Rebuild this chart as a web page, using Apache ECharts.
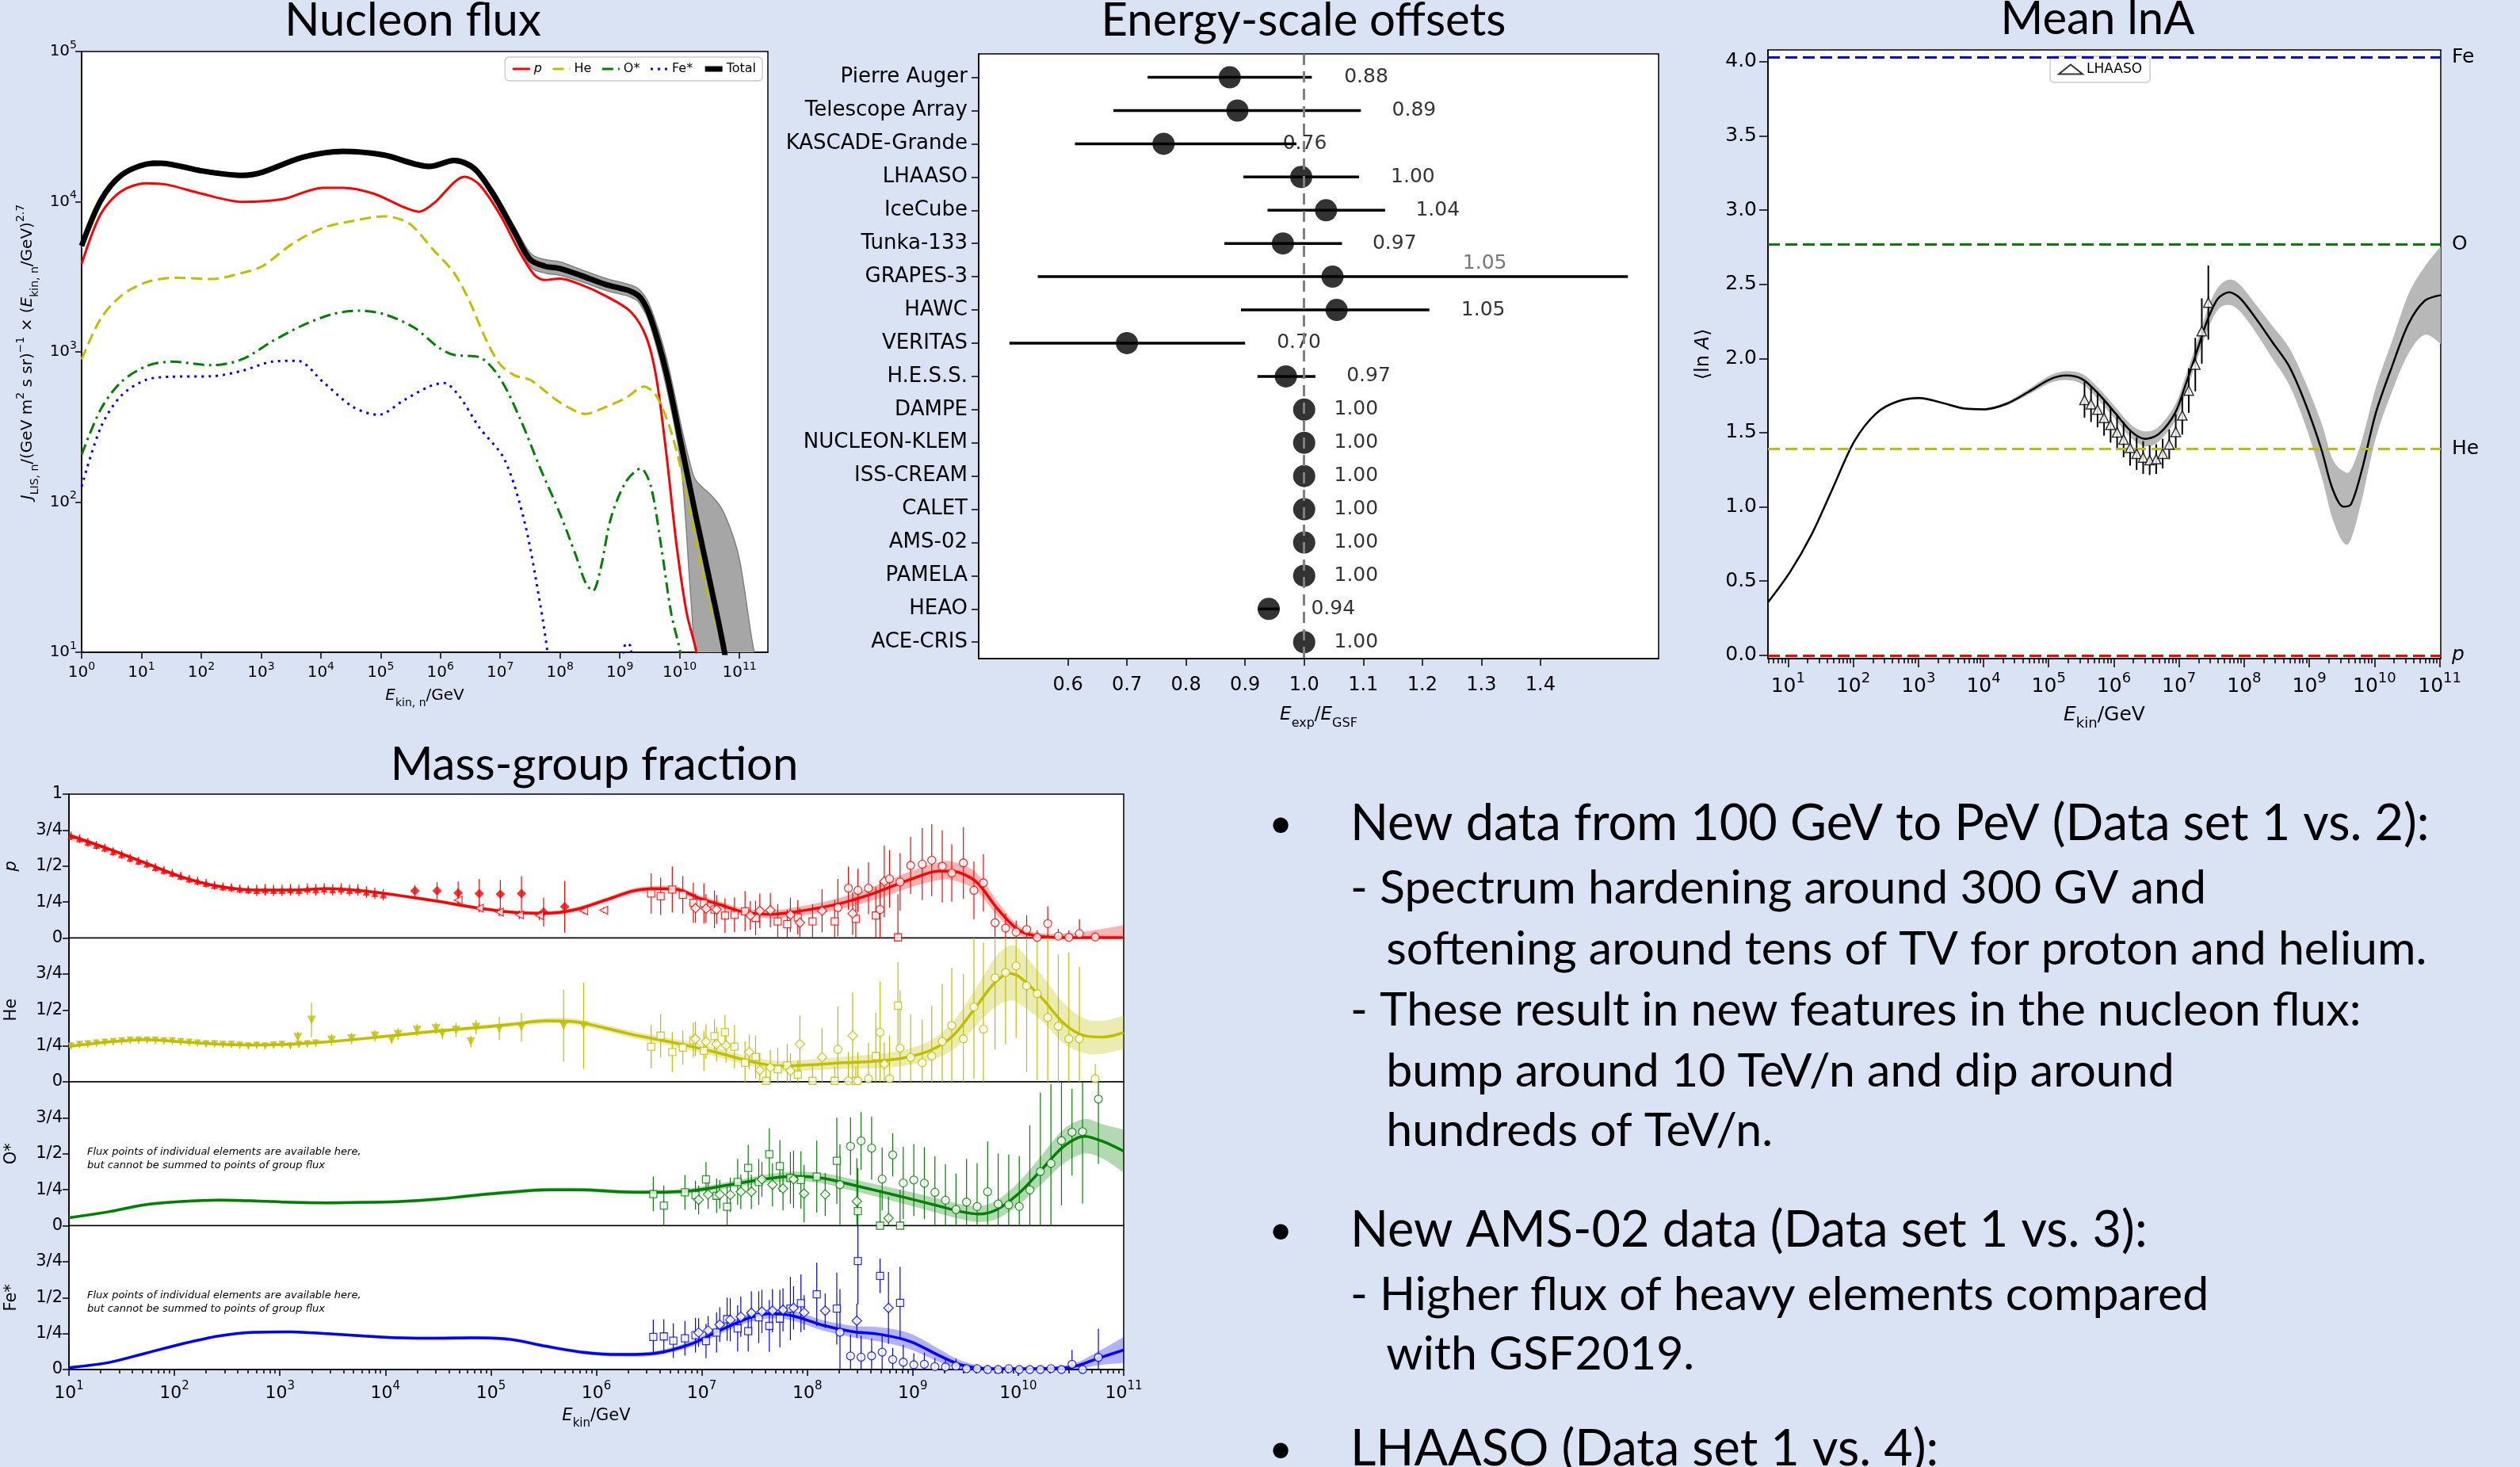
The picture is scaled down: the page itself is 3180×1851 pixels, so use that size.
<!DOCTYPE html>
<html>
<head>
<meta charset="utf-8">
<script src="https://cdn.jsdelivr.net/npm/echarts@6/dist/echarts.min.js"></script>
<style>
  html, body { margin: 0; padding: 0; background: #dae3f3; }
  #main { width: 3180px; height: 1851px; }
</style>
</head>
<body>
<div id="main"></div>
<script>
const FONT = 'DejaVu Sans';
const SLIDE = 'Lato';
const RED = '#ff0000', YEL = '#bfbf00', GRN = '#008000', BLU = '#0000ff';

// ---------- Nucleon flux: [log10(E/GeV), log10 J] ----------
const fluxP = [[0,3.585],[0.32,3.918],[0.66,4.069],[1.08,4.123],[1.42,4.114],[2.0,4.054],[2.68,3.999],[3.36,4.017],[4.03,4.093],[4.37,4.093],[4.88,4.054],[5.39,3.963],[5.64,3.933],[5.9,3.993],[6.23,4.129],[6.4,4.166],[6.65,4.114],[6.99,3.918],[7.33,3.661],[7.58,3.509],[7.75,3.479],[8.0,3.488],[8.34,3.449],[8.76,3.373],[9.18,3.268],[9.44,3.101],[9.61,2.829],[9.78,2.315],[9.95,1.71],[10.12,1.257],[10.28,1.0],[10.4,0.6]];
const fluxHe = [[0,2.95],[0.32,3.222],[0.66,3.373],[1.08,3.464],[1.59,3.494],[2.18,3.485],[2.68,3.525],[3.02,3.57],[3.53,3.721],[4.04,3.827],[4.54,3.872],[5.05,3.903],[5.47,3.857],[5.89,3.676],[6.23,3.525],[6.48,3.343],[6.74,3.101],[6.99,2.92],[7.24,2.844],[7.5,2.814],[7.75,2.739],[8.0,2.663],[8.43,2.587],[8.76,2.633],[9.1,2.693],[9.4,2.769],[9.61,2.708],[9.86,2.466],[10.11,2.073],[10.37,1.559],[10.62,1.166],[10.75,1.0],[10.9,0.6]];
const fluxO = [[0,2.315],[0.32,2.618],[0.66,2.799],[1.08,2.905],[1.5,2.935],[2.18,2.911],[2.68,2.95],[3.19,3.071],[3.7,3.177],[4.2,3.252],[4.63,3.274],[5.05,3.252],[5.56,3.162],[5.98,3.026],[6.23,2.98],[6.65,2.965],[6.99,2.829],[7.33,2.557],[7.67,2.224],[8.0,1.922],[8.26,1.65],[8.43,1.46],[8.55,1.408],[8.68,1.559],[8.85,1.892],[9.1,2.134],[9.35,2.224],[9.52,2.103],[9.69,1.71],[9.86,1.257],[10.01,1.0],[10.15,0.6]];
const fluxFe = [[0,2.103],[0.32,2.497],[0.66,2.708],[1.08,2.814],[1.5,2.835],[2.18,2.838],[2.68,2.874],[3.19,2.935],[3.61,2.941],[4.04,2.799],[4.54,2.633],[4.96,2.581],[5.39,2.678],[5.81,2.769],[6.06,2.793],[6.31,2.708],[6.65,2.497],[7.07,2.285],[7.41,1.862],[7.67,1.317],[7.79,1.0],[7.9,0.6],[8.5,null],[9.02,0.8],[9.1,1.06],[9.18,1.04],[9.26,0.6]];
const fluxTotal = [[0,3.706],[0.32,4.008],[0.66,4.175],[1.08,4.25],[1.33,4.256],[2.01,4.205],[2.69,4.175],[3.02,4.196],[3.7,4.296],[4.37,4.335],[5.05,4.311],[5.81,4.235],[6.23,4.274],[6.57,4.22],[6.9,4.039],[7.24,3.797],[7.5,3.615],[7.75,3.57],[8.0,3.555],[8.34,3.51],[8.76,3.449],[9.18,3.404],[9.35,3.358],[9.52,3.222],[9.78,2.859],[10.03,2.376],[10.28,1.892],[10.54,1.408],[10.75,1.0],[10.9,0.6]];
// grey band of the total: [log10 E, lower, upper]
const fluxTotalBand = [[0,3.694,3.718],[0.32,3.996,4.02],[0.66,4.163,4.187],[1.08,4.238,4.262],[1.33,4.244,4.268],[2.01,4.193,4.217],[2.69,4.163,4.187],[3.02,4.184,4.208],[3.7,4.284,4.308],[4.37,4.323,4.347],[5.05,4.299,4.323],[5.81,4.222,4.248],[6.23,4.26,4.29],[6.57,4.2,4.24],[6.9,4.01,4.07],[7.24,3.76,3.835],[7.5,3.57,3.66],[7.75,3.525,3.615],[8.0,3.51,3.6],[8.34,3.47,3.55],[8.76,3.41,3.49],[9.18,3.365,3.445],[9.35,3.31,3.405],[9.52,3.16,3.29],[9.78,2.76,2.96],[10.03,2.22,2.5],[10.18,1.4,2.25],[10.28,0.5,2.14],[10.54,0.5,2.04],[10.75,0.5,1.92],[11.0,0.5,1.62],[11.25,0.5,1.0],[11.4,0.5,0.5]];
const fluxTicks = [0,1,2,3,4,5,6,7,8,9,10,11];
const fluxYTicks = [1,2,3,4,5];

// ---------- Energy-scale offsets ----------
const expNames = ['Pierre Auger','Telescope Array','KASCADE-Grande','LHAASO','IceCube','Tunka-133','GRAPES-3','HAWC','VERITAS','H.E.S.S.','DAMPE','NUCLEON-KLEM','ISS-CREAM','CALET','AMS-02','PAMELA','HEAO','ACE-CRIS'];
const expShift = [0.874,0.887,0.762,0.995,1.037,0.964,1.048,1.055,0.700,0.969,1.0,1.0,1.0,1.0,1.0,1.0,0.940,1.0];
const expLow = [0.735,0.677,0.612,0.897,0.938,0.865,0.549,0.893,0.501,0.921,1,1,1,1,1,1,0.922,1];
const expHigh = [1.013,1.096,0.987,1.093,1.137,1.064,1.548,1.212,0.900,1.019,1,1,1,1,1,1,0.958,1];
const expText = ['0.88','0.89','0.76','1.00','1.04','0.97','1.05','1.05','0.70','0.97','1.00','1.00','1.00','1.00','1.00','1.00','0.94','1.00'];
const expTextAt = [1.067,1.148,0.963,1.146,1.188,1.115,1.265,1.265,0.953,1.071,1.05,1.05,1.05,1.05,1.05,1.05,1.011,1.05];
const expTicks = [0.6,0.7,0.8,0.9,1.0,1.1,1.2,1.3,1.4];

// ---------- Mean lnA ----------
const lnACurve = [[0.69,0.356],[1.03,0.561],[1.36,0.813],[1.69,1.129],[2.02,1.444],[2.36,1.633],[2.69,1.712],[3.02,1.734],[3.36,1.702],[3.69,1.664],[4.02,1.658],[4.36,1.696],[4.69,1.775],[5.02,1.860],[5.27,1.885],[5.52,1.860],[5.77,1.759],[6.02,1.633],[6.27,1.507],[6.48,1.459],[6.69,1.491],[6.94,1.633],[7.10,1.822],[7.27,2.043],[7.44,2.263],[7.60,2.405],[7.77,2.446],[7.94,2.405],[8.19,2.263],[8.44,2.106],[8.69,1.948],[8.94,1.696],[9.19,1.381],[9.35,1.129],[9.52,1.002],[9.64,1.018],[9.81,1.255],[10.02,1.633],[10.27,1.948],[10.52,2.232],[10.77,2.389],[11.02,2.427]];
const lnAHalfWidth = [0.008,0.008,0.008,0.008,0.008,0.008,0.008,0.008,0.008,0.008,0.008,0.012,0.018,0.025,0.03,0.035,0.04,0.042,0.045,0.05,0.05,0.055,0.06,0.06,0.07,0.075,0.085,0.09,0.095,0.11,0.125,0.145,0.18,0.2,0.24,0.235,0.2,0.17,0.17,0.2,0.23,0.33];
const lhaasoLgE = [5.55,5.65,5.75,5.85,5.95,6.05,6.15,6.25,6.35,6.45,6.55,6.65,6.75,6.85,6.95,7.05,7.15,7.25,7.35,7.45];
const lhaasoLnA = [1.722,1.692,1.656,1.600,1.553,1.503,1.455,1.398,1.359,1.333,1.315,1.322,1.359,1.421,1.505,1.617,1.784,1.959,2.185,2.377];
const lhaasoErr = [0.12,0.12,0.12,0.12,0.12,0.12,0.12,0.12,0.11,0.11,0.1,0.1,0.1,0.1,0.12,0.13,0.15,0.18,0.22,0.25];
const lnAGroups = ['Fe','O','He','p'];
const lnAGroupValues = [4.025,2.773,1.386,0];
const lnAYTicks = [0,0.5,1,1.5,2,2.5,3,3.5,4];
const lnAXTicks = [1,2,3,4,5,6,7,8,9,10,11];

// ---------- Mass-group fraction: curves [log10 E, fraction], points [log10 E, fraction, error] ----------
const fracTicks = [0,0.25,0.5,0.75,1];
const fracTickText = ['0','1/4','1/2','3/4','1'];
const fracXTicks = [1,2,3,4,5,6,7,8,9,10,11];

const pFracCurve = [[1.0,0.715],[1.38,0.618],[1.725,0.521],[2.07,0.424],[2.42,0.359],[2.76,0.333],[3.11,0.333],[3.45,0.343],[3.80,0.327],[4.14,0.294],[4.49,0.256],[4.83,0.214],[5.18,0.181],[5.52,0.172],[5.80,0.197],[6.08,0.262],[6.35,0.327],[6.56,0.343],[6.77,0.337],[6.97,0.278],[7.18,0.230],[7.39,0.181],[7.66,0.165],[7.94,0.188],[8.29,0.236],[8.63,0.311],[8.98,0.408],[9.25,0.466],[9.39,0.463],[9.60,0.392],[9.81,0.197],[10.01,0.052],[10.22,0.01],[10.56,0.003],[11.0,0.003]];
const pFracHalf = [0.012,0.012,0.012,0.011,0.01,0.01,0.01,0.01,0.01,0.01,0.011,0.012,0.012,0.013,0.015,0.016,0.018,0.018,0.02,0.02,0.022,0.024,0.028,0.033,0.04,0.048,0.056,0.062,0.064,0.062,0.05,0.03,0.022,0.035,0.085];
const pFracDense = [[1.02,0.71,0.03],[1.1,0.69,0.03],[1.18,0.665,0.03],[1.26,0.645,0.03],[1.34,0.625,0.03],[1.42,0.60,0.03],[1.5,0.58,0.03],[1.58,0.555,0.03],[1.66,0.535,0.03],[1.74,0.515,0.03],[1.82,0.49,0.03],[1.9,0.47,0.03],[1.98,0.45,0.03],[2.06,0.43,0.03],[2.14,0.41,0.03],[2.22,0.395,0.03],[2.3,0.38,0.03],[2.38,0.365,0.03],[2.46,0.355,0.03],[2.54,0.35,0.03],[2.62,0.34,0.03],[2.7,0.335,0.03],[2.78,0.33,0.04],[2.86,0.335,0.04],[2.94,0.33,0.04],[3.02,0.33,0.04],[3.1,0.335,0.04],[3.18,0.33,0.04],[3.26,0.34,0.04],[3.34,0.335,0.04],[3.42,0.34,0.04],[3.5,0.335,0.04],[3.58,0.34,0.04],[3.66,0.33,0.04],[3.74,0.335,0.04],[3.82,0.32,0.04],[3.9,0.31,0.04],[3.98,0.3,0.04]];
const pFracFilled = [[4.28,0.328,0.04],[4.49,0.328,0.06],[4.69,0.313,0.08],[4.89,0.309,0.1],[5.09,0.304,0.1],[5.29,0.309,0.12],[5.5,0.18,0.1],[5.7,0.217,0.18]];
const pFracLeftTri = [[4.69,0.263,0.03],[4.89,0.207,0.03],[5.08,0.18,0.03],[5.27,0.161,0.03],[5.46,0.156,0.03],[5.88,0.189,0.02],[6.07,0.193,0.02]];
const pFracSquares = [[6.52,0.309,0.14],[6.61,0.29,0.13],[6.72,0.337,0.16],[6.82,0.30,0.13],[6.92,0.244,0.14],[7.02,0.24,0.14],[7.12,0.198,0.13],[7.22,0.156,0.12],[7.31,0.161,0.12],[7.41,0.185,0.14],[7.51,0.139,0.12],[7.72,0.115,0.12],[7.81,0.096,0.1],[7.91,0.143,0.12],[8.05,0.115,0.12],[8.26,0.115,0.15],[8.46,0.133,0.15],[8.65,0.156,0.2],[8.86,0.004,0.3]];
const pFracDiamonds = [[6.94,0.207,0.1],[7.04,0.204,0.1],[7.14,0.198,0.1],[7.46,0.156,0.1],[7.55,0.189,0.12],[7.65,0.193,0.12],[7.84,0.161,0.12],[7.93,0.106,0.1],[8.14,0.189,0.15],[8.43,0.170,0.15],[8.73,0.393,0.25]];
const pFracCircles = [[8.29,0.211,0.2],[8.39,0.346,0.15],[8.48,0.331,0.15],[8.58,0.346,0.18],[8.69,0.198,0.2],[8.78,0.411,0.2],[8.88,0.389,0.2],[8.98,0.504,0.2],[9.09,0.513,0.25],[9.18,0.541,0.25],[9.28,0.498,0.25],[9.37,0.452,0.2],[9.48,0.522,0.25],[9.58,0.331,0.2],[9.67,0.383,0.2],[9.78,0.106,0.1],[9.88,0.069,0.1],[9.98,0.041,0.08],[10.08,0.059,0.1],[10.18,0.004,0.05],[10.28,0.1,0.12],[10.38,0.013,0.05],[10.48,0.004,0.05],[10.58,0.031,0.1],[10.73,0.007,0.03]];

const heFracCurve = [[1.0,0.246],[1.38,0.278],[1.725,0.294],[2.07,0.278],[2.42,0.262],[2.76,0.256],[3.11,0.262],[3.45,0.278],[3.80,0.301],[4.14,0.327],[4.49,0.353],[4.83,0.375],[5.18,0.398],[5.52,0.424],[5.80,0.417],[6.08,0.375],[6.35,0.327],[6.63,0.288],[6.90,0.246],[7.18,0.197],[7.46,0.142],[7.73,0.110],[8.01,0.117],[8.35,0.133],[8.63,0.142],[8.91,0.165],[9.18,0.223],[9.39,0.327],[9.60,0.521],[9.77,0.683],[9.91,0.754],[10.01,0.731],[10.22,0.586],[10.43,0.408],[10.63,0.320],[10.81,0.311],[11.0,0.343]];
const heFracHalf = [0.012,0.011,0.01,0.01,0.01,0.01,0.01,0.01,0.011,0.012,0.013,0.014,0.016,0.02,0.022,0.022,0.024,0.026,0.028,0.03,0.032,0.035,0.038,0.042,0.048,0.055,0.07,0.1,0.13,0.17,0.19,0.19,0.16,0.14,0.12,0.115,0.115];
const heFracDense = [[1.02,0.25,0.025],[1.1,0.26,0.025],[1.18,0.265,0.025],[1.26,0.27,0.025],[1.34,0.275,0.025],[1.42,0.28,0.025],[1.5,0.285,0.025],[1.58,0.29,0.025],[1.66,0.29,0.025],[1.74,0.29,0.025],[1.82,0.29,0.025],[1.9,0.285,0.025],[1.98,0.285,0.025],[2.06,0.28,0.025],[2.14,0.275,0.025],[2.22,0.27,0.025],[2.3,0.265,0.025],[2.38,0.265,0.025],[2.46,0.26,0.025],[2.54,0.26,0.025],[2.62,0.255,0.025],[2.7,0.25,0.025],[2.78,0.255,0.025],[2.86,0.25,0.025],[2.94,0.255,0.025],[3.02,0.26,0.025],[3.1,0.25,0.025],[3.18,0.26,0.025],[3.26,0.265,0.025],[3.34,0.27,0.025]];
const heFracFilled = [[3.17,0.31,0.04],[3.3,0.43,0.12],[3.49,0.29,0.04],[3.68,0.30,0.04],[3.9,0.32,0.04],[4.06,0.295,0.03],[4.12,0.33,0.04],[4.3,0.36,0.04],[4.48,0.37,0.04],[4.54,0.336,0.04],[4.67,0.36,0.05],[4.81,0.28,0.04],[4.86,0.38,0.05],[5.08,0.37,0.08],[5.29,0.38,0.1],[5.69,0.39,0.25],[5.88,0.39,0.3]];
const heFracSquares = [[6.52,0.244,0.15],[6.61,0.321,0.15],[6.72,0.207,0.14],[6.82,0.238,0.12],[6.92,0.290,0.12],[7.02,0.216,0.14],[7.12,0.317,0.12],[7.22,0.345,0.12],[7.31,0.244,0.15],[7.41,0.133,0.15],[7.51,0.173,0.15],[7.61,0.007,0.1],[7.72,0.087,0.15],[7.81,0.114,0.15],[7.91,0.050,0.1],[8.05,0.007,0.1],[8.26,0.007,0.1],[8.46,0.007,0.1],[8.65,0.179,0.3],[8.86,0.530,0.3]];
const heFracDiamonds = [[6.94,0.299,0.12],[7.04,0.280,0.12],[7.14,0.262,0.12],[7.23,0.253,0.12],[7.45,0.207,0.12],[7.55,0.081,0.12],[7.65,0.100,0.12],[7.84,0.077,0.12],[7.93,0.262,0.2],[8.14,0.170,0.2],[8.43,0.321,0.3],[8.73,0.124,0.15]];
const heFracCircles = [[8.29,0.225,0.3],[8.39,0.007,0.2],[8.48,0.007,0.2],[8.58,0.022,0.25],[8.69,0.345,0.35],[8.78,0.022,0.3],[8.88,0.234,0.4],[8.98,0.170,0.3],[9.09,0.133,0.3],[9.18,0.179,0.35],[9.28,0.280,0.4],[9.37,0.391,0.4],[9.48,0.299,0.45],[9.58,0.520,0.5],[9.67,0.367,0.6],[9.78,0.723,0.5],[9.88,0.760,0.5],[9.98,0.806,0.5],[10.08,0.668,0.6],[10.18,0.613,0.6],[10.28,0.447,0.6],[10.38,0.386,0.5],[10.48,0.299,0.6],[10.58,0.299,0.5],[10.73,0.022,0.1]];

const oFracCurve = [[1.0,0.055],[1.38,0.097],[1.725,0.146],[2.07,0.168],[2.42,0.178],[2.76,0.172],[3.11,0.162],[3.45,0.159],[3.80,0.162],[4.14,0.168],[4.49,0.184],[4.83,0.210],[5.18,0.233],[5.52,0.249],[5.87,0.249],[6.21,0.236],[6.56,0.233],[6.90,0.243],[7.25,0.282],[7.59,0.324],[7.87,0.343],[8.14,0.330],[8.42,0.285],[8.70,0.236],[8.97,0.188],[9.25,0.136],[9.46,0.097],[9.63,0.081],[9.80,0.113],[10.01,0.227],[10.22,0.388],[10.43,0.550],[10.63,0.621],[10.81,0.583],[11.0,0.518]];
const oFracHalf = [0.01,0.01,0.01,0.01,0.01,0.01,0.01,0.01,0.01,0.011,0.012,0.012,0.013,0.014,0.014,0.014,0.015,0.018,0.022,0.028,0.033,0.036,0.04,0.043,0.047,0.05,0.052,0.055,0.065,0.08,0.1,0.12,0.12,0.12,0.15];
const oFracSquares = [[6.54,0.22,0.12],[6.64,0.14,0.14],[6.84,0.232,0.12],[6.94,0.212,0.1],[7.04,0.322,0.12],[7.14,0.208,0.12],[7.24,0.131,0.14],[7.34,0.304,0.16],[7.44,0.402,0.16],[7.54,0.304,0.16],[7.64,0.497,0.18],[7.74,0.414,0.18],[7.84,0.332,0.18],[7.94,0.318,0.2],[8.09,0.341,0.25],[8.28,0.451,0.3],[8.48,0.101,0.3],[8.69,0.0,0.25],[8.88,0.0,0.25]];
const oFracDiamonds = [[6.97,0.180,0.1],[7.06,0.217,0.1],[7.17,0.217,0.1],[7.27,0.214,0.12],[7.37,0.236,0.12],[7.47,0.236,0.12],[7.57,0.322,0.12],[7.67,0.285,0.15],[7.77,0.258,0.15],[7.87,0.322,0.2],[7.97,0.223,0.2],[8.17,0.217,0.15],[8.47,0.169,0.3],[8.77,0.052,0.15]];
const oFracCircles = [[8.31,0.285,0.28],[8.41,0.552,0.2],[8.51,0.589,0.2],[8.61,0.539,0.22],[8.71,0.324,0.22],[8.81,0.492,0.15],[8.91,0.297,0.25],[9.01,0.318,0.25],[9.11,0.295,0.25],[9.21,0.232,0.25],[9.31,0.177,0.25],[9.41,0.112,0.25],[9.51,0.164,0.3],[9.61,0.133,0.3],[9.71,0.236,0.35],[9.81,0.151,0.35],[9.91,0.145,0.35],[10.01,0.133,0.35],[10.11,0.249,0.45],[10.21,0.376,0.55],[10.31,0.433,0.55],[10.41,0.591,0.45],[10.51,0.650,0.3],[10.61,0.654,0.5],[10.76,0.880,0.45]];

const feFracCurve = [[1.0,0.013],[1.38,0.049],[1.725,0.113],[2.07,0.178],[2.42,0.233],[2.76,0.259],[3.11,0.262],[3.45,0.249],[3.80,0.233],[4.14,0.220],[4.49,0.217],[4.83,0.220],[5.18,0.210],[5.52,0.162],[5.87,0.120],[6.21,0.104],[6.56,0.113],[6.90,0.178],[7.18,0.275],[7.46,0.362],[7.66,0.388],[7.87,0.372],[8.15,0.307],[8.42,0.265],[8.70,0.243],[8.98,0.194],[9.25,0.097],[9.46,0.032],[9.74,0.006],[10.15,0.006],[10.5,0.016],[10.77,0.081],[11.0,0.136]];
const feFracHalf = [0.008,0.008,0.008,0.008,0.008,0.008,0.008,0.008,0.009,0.01,0.011,0.012,0.012,0.012,0.012,0.013,0.015,0.02,0.025,0.03,0.032,0.034,0.036,0.04,0.05,0.055,0.045,0.03,0.01,0.01,0.02,0.05,0.09];
const feFracSquares = [[6.54,0.227,0.12],[6.64,0.23,0.12],[6.73,0.2,0.12],[6.84,0.217,0.12],[6.94,0.239,0.12],[7.04,0.198,0.12],[7.14,0.257,0.14],[7.24,0.350,0.15],[7.34,0.286,0.16],[7.44,0.266,0.14],[7.54,0.363,0.18],[7.64,0.303,0.18],[7.74,0.354,0.2],[7.84,0.424,0.22],[7.94,0.461,0.2],[8.09,0.523,0.22],[8.28,0.424,0.25],[8.48,0.754,0.3],[8.69,0.651,0.12],[8.88,0.464,0.25]];
const feFracDiamonds = [[6.97,0.257,0.1],[7.06,0.272,0.1],[7.17,0.312,0.12],[7.27,0.345,0.15],[7.37,0.367,0.14],[7.47,0.394,0.15],[7.57,0.404,0.15],[7.67,0.409,0.15],[7.77,0.415,0.15],[7.87,0.428,0.15],[7.97,0.396,0.12],[8.17,0.409,0.12],[8.47,0.339,0.12],[8.77,0.428,0.25]];
const feFracCircles = [[8.31,0.259,0.3],[8.41,0.094,0.15],[8.51,0.086,0.15],[8.61,0.095,0.12],[8.71,0.121,0.12],[8.81,0.070,0.08],[8.91,0.051,0.12],[9.01,0.033,0.08],[9.11,0.037,0.08],[9.21,0.020,0.06],[9.31,0.018,0.06],[9.41,0.024,0.05],[9.51,0.006,0.03],[9.61,0.006,0.03],[9.71,0.0,0.03],[9.81,0.0,0.02],[9.91,0.006,0.02],[10.01,0.0,0.02],[10.11,0.0,0.02],[10.21,0.0,0.02],[10.31,0.006,0.02],[10.41,0.0,0.02],[10.51,0.037,0.1],[10.61,0.0,0.03],[10.76,0.084,0.2]];

const massNames = ['p','He','O*','Fe*'];
const fluxNote = 'Flux points of individual elements are available here,\nbut cannot be summed to points of group flux';

// ---------- text panel ----------
const bulletLines = [
  ['•', 'New data from 100 GeV to PeV (Data set 1 vs. 2):', 'main'],
  ['', '- Spectrum hardening around 300 GV and', 'sub'],
  ['', '   softening around tens of TV for proton and helium.', 'sub'],
  ['', '- These result in new features in the nucleon flux:', 'sub'],
  ['', '   bump around 10 TeV/n and dip around', 'sub'],
  ['', '   hundreds of TeV/n.', 'sub'],
  ['•', 'New AMS-02 data (Data set 1 vs. 3):', 'main'],
  ['', '- Higher flux of heavy elements compared', 'sub'],
  ['', '   with GSF2019.', 'sub'],
  ['•', 'LHAASO (Data set 1 vs. 4):', 'main']
];
const bulletY = [1040, 1121, 1198, 1275, 1352, 1427, 1553, 1634, 1709, 1829];

// ================= helpers =================
const chart = echarts.init(document.getElementById('main'), null, { width: 3180, height: 1851 });

function minorLog(lo, hi) {
  const r = [];
  for (let n = Math.floor(lo); n <= Math.ceil(hi); n++) {
    for (let k = 2; k <= 9; k++) {
      const v = n + Math.log10(k);
      if (v > lo && v < hi) r.push(v);
    }
  }
  return r;
}
function powRich(fs) {
  return {
    b: { fontFamily: FONT, fontSize: fs, color: '#000', lineHeight: Math.round(fs * 1.5) },
    s: { fontFamily: FONT, fontSize: Math.round(fs * 0.7), color: '#000', lineHeight: Math.round(fs * 0.8), verticalAlign: 'top' }
  };
}
const pow10 = v => '{b|10}{s|' + Math.round(v) + '}';
function mathRich(fs) {
  return {
    n: { fontFamily: FONT, fontSize: fs, color: '#000', lineHeight: Math.round(fs * 1.6) },
    i: { fontFamily: FONT, fontSize: fs, color: '#000', fontStyle: 'italic', lineHeight: Math.round(fs * 1.6) },
    sub: { fontFamily: FONT, fontSize: Math.round(fs * 0.7), color: '#000', verticalAlign: 'bottom', lineHeight: Math.round(fs * 0.8) },
    sup: { fontFamily: FONT, fontSize: Math.round(fs * 0.7), color: '#000', verticalAlign: 'top', lineHeight: Math.round(fs * 0.8) }
  };
}
function ax(o) {
  o.type = 'value';
  o.splitLine = { show: false };
  o.axisLine = Object.assign({ show: true, onZero: false, lineStyle: { color: '#000', width: 1.5 } }, o.axisLine || {});
  o.axisTick = Object.assign({ show: true, length: 8, lineStyle: { color: '#000', width: 1.5 } }, o.axisTick || {});
  o.axisLabel = Object.assign({ color: '#000', fontFamily: FONT, fontSize: 20 }, o.axisLabel || {});
  o.nameTextStyle = Object.assign({ color: '#000', fontFamily: FONT, fontSize: 20 }, o.nameTextStyle || {});
  return o;
}
function vBars(color, width) {
  return function (params, api) {
    const cs = params.coordSys;
    const a = api.coord([api.value(0), api.value(2)]);
    const b = api.coord([api.value(0), api.value(3)]);
    const clamp = y => Math.min(cs.y + cs.height, Math.max(cs.y, y));
    return { type: 'line', shape: { x1: a[0], y1: clamp(a[1]), x2: a[0], y2: clamp(b[1]) }, style: { stroke: color, lineWidth: width } };
  };
}
function hBars(color, width) {
  return function (params, api) {
    const a = api.coord([api.value(2), api.value(1)]);
    const b = api.coord([api.value(3), api.value(1)]);
    return { type: 'line', shape: { x1: a[0], y1: a[1], x2: b[0], y2: b[1] }, style: { stroke: color, lineWidth: width } };
  };
}
// Catmull-Rom through pixel points, as path commands
function splinePath(pts) {
  let d = '';
  for (let i = 0; i < pts.length - 1; i++) {
    const p0 = pts[Math.max(0, i - 1)], p1 = pts[i], p2 = pts[i + 1], p3 = pts[Math.min(pts.length - 1, i + 2)];
    const c1x = p1[0] + (p2[0] - p0[0]) / 6, c1y = p1[1] + (p2[1] - p0[1]) / 6;
    const c2x = p2[0] - (p3[0] - p1[0]) / 6, c2y = p2[1] - (p3[1] - p1[1]) / 6;
    d += ' C' + c1x.toFixed(2) + ',' + c1y.toFixed(2) + ' ' + c2x.toFixed(2) + ',' + c2y.toFixed(2) + ' ' + p2[0].toFixed(2) + ',' + p2[1].toFixed(2);
  }
  return d;
}
const bandAround = (curveData, half) => curveData.map((d, i) => [d[0], d[1] - half[i], d[1] + half[i]]);
function band(data, xi, yi, fill, edge) {
  return {
    type: 'custom', xAxisIndex: xi, yAxisIndex: yi, silent: true, z: 1, clip: true,
    data: data,
    renderItem: function (params, api) {
      if (params.dataIndex !== 0) return null;
      const cs = params.coordSys;
      const clampY = y => Math.min(cs.y + cs.height + 2, Math.max(cs.y - 2, y));
      const up = data.map(d => { const p = api.coord([d[0], d[2]]); return [p[0], clampY(p[1])]; });
      const lo = data.map(d => { const p = api.coord([d[0], d[1]]); return [p[0], clampY(p[1])]; }).reverse();
      const path = 'M' + up[0][0].toFixed(2) + ',' + up[0][1].toFixed(2) + splinePath(up) +
        ' L' + lo[0][0].toFixed(2) + ',' + lo[0][1].toFixed(2) + splinePath(lo) + ' Z';
      return { type: 'path', shape: { pathData: path }, style: { fill: fill, stroke: edge || 'none', lineWidth: edge ? 1.3 : 0 } };
    }
  };
}
function curve(name, data, xi, yi, color, width, type, z) {
  return {
    name: name, type: 'line', xAxisIndex: xi, yAxisIndex: yi, data: data,
    symbol: 'none', showSymbol: false, smooth: 0.3, connectNulls: false,
    lineStyle: { color: color, width: width, type: type },
    itemStyle: { color: color }, z: z || 3, silent: true
  };
}
function points(data, xi, yi, color, symbol, size, filled, rotate) {
  return [
    {
      type: 'custom', xAxisIndex: xi, yAxisIndex: yi, silent: true, z: 4,
      data: data.map(d => [d[0], d[1], d[1] - d[2], d[1] + d[2]]),
      renderItem: vBars(color, 1.2)
    },
    {
      type: 'scatter', xAxisIndex: xi, yAxisIndex: yi, silent: true, z: 5,
      data: data.map(d => [d[0], d[1]]), symbol: symbol, symbolSize: size, symbolRotate: rotate || 0,
      itemStyle: filled ? { color: color } : { color: '#fff', borderColor: color, borderWidth: 1.3 }
    }
  ];
}

// ================= layout =================
const grids = [
  { left: 103, top: 65, width: 866, height: 758 },
  { left: 1235, top: 68, width: 858, height: 763 },
  { left: 2231, top: 63, width: 849, height: 768 },
  { left: 87, top: 1002, width: 1331, height: 181.5 },
  { left: 87, top: 1183.5, width: 1331, height: 181.5 },
  { left: 87, top: 1365, width: 1331, height: 181.5 },
  { left: 87, top: 1546.5, width: 1331, height: 181.5 }
].map(g => Object.assign({ show: true, borderColor: '#000', borderWidth: 1.5, backgroundColor: '#fff' }, g));

const xAxes = [
  ax({ gridIndex: 0, min: 0, max: 11.476,
    axisTick: { customValues: fluxTicks },
    axisLabel: { customValues: fluxTicks, formatter: pow10, rich: powRich(20), margin: 11 },
    name: '{i|E}{sub|kin, n}{n|/GeV}', nameLocation: 'middle', nameGap: 39,
    nameTextStyle: { rich: mathRich(20) } }),
  ax({ gridIndex: 1, min: 0.449, max: 1.600,
    axisTick: { customValues: expTicks, length: 9 },
    axisLabel: { customValues: expTicks, formatter: v => v.toFixed(1), fontSize: 24, margin: 22 },
    name: '{i|E}{sub|exp}{n|/}{i|E}{sub|GSF}', nameLocation: 'middle', nameGap: 53,
    nameTextStyle: { rich: mathRich(23) } }),
  ax({ gridIndex: 2, min: 0.692, max: 11.017,
    axisTick: { customValues: lnAXTicks, length: 11 },
    axisLabel: { customValues: lnAXTicks, formatter: pow10, rich: powRich(25), margin: 16 },
    name: '{i|E}{sub|kin}{n|/GeV}', nameLocation: 'middle', nameGap: 51,
    nameTextStyle: { rich: mathRich(25) } }),
  ax({ gridIndex: 2, min: 0.692, max: 11.017, position: 'bottom', offset: 0,
    axisLine: { show: false },
    axisTick: { customValues: minorLog(0.692, 11.017), length: 6 },
    axisLabel: { show: false } })
];
for (let k = 0; k < 4; k++) {
  const bottom = k === 3;
  xAxes.push(ax({ gridIndex: 3 + k, min: 1, max: 11,
    axisLine: { show: bottom },
    axisTick: { show: bottom, customValues: fracXTicks, length: 8 },
    axisLabel: { show: bottom, customValues: fracXTicks, formatter: pow10, rich: powRich(22), margin: 14 },
    name: bottom ? '{i|E}{sub|kin}{n|/GeV}' : '', nameLocation: 'middle', nameGap: 42,
    nameTextStyle: { rich: mathRich(21) } }));
}
xAxes.push(ax({ gridIndex: 6, min: 1, max: 11, position: 'bottom', offset: 0,
  axisLine: { show: false },
  axisTick: { customValues: minorLog(1, 11), length: 5 },
  axisLabel: { show: false } }));

const yAxes = [
  ax({ gridIndex: 0, min: 1, max: 5,
    axisTick: { customValues: fluxYTicks },
    axisLabel: { customValues: fluxYTicks, formatter: pow10, rich: powRich(20), margin: 6 },
    name: '{i|J}{sub|LIS, n}{n|/(GeV m}{sup|2}{n| s sr)}{sup|−1}{n| × (}{i|E}{sub|kin, n}{n|/GeV)}{sup|2.7}',
    nameLocation: 'middle', nameRotate: 90, nameGap: 52,
    nameTextStyle: { rich: mathRich(20) } }),
  ax({ gridIndex: 1, min: -0.706, max: 17.495, inverse: true,
    axisTick: { customValues: expNames.map((_, i) => i), length: 9 },
    axisLabel: { customValues: expNames.map((_, i) => i), formatter: v => expNames[Math.round(v)], fontSize: 26, margin: 14 } }),
  ax({ gridIndex: 2, min: -0.022, max: 4.079,
    axisTick: { customValues: lnAYTicks, length: 11 },
    axisLabel: { customValues: lnAYTicks, formatter: v => v.toFixed(1), fontSize: 25, margin: 14 },
    name: '{n|⟨ln }{i|A}{n|⟩}', nameLocation: 'middle', nameRotate: 90, nameGap: 62,
    nameTextStyle: { rich: mathRich(24) } })
];
for (let k = 0; k < 4; k++) {
  const vals = k === 0 ? fracTicks : fracTicks.slice(0, 4);
  yAxes.push(ax({ gridIndex: 3 + k, min: 0, max: 1,
    axisTick: { customValues: vals, length: 8 },
    axisLabel: { customValues: vals, formatter: v => fracTickText[fracTicks.indexOf(v)], fontSize: 21, margin: 8 },
    name: k === 0 ? '{i|p}' : '{n|' + massNames[k] + '}', nameLocation: 'middle', nameRotate: 90, nameGap: 55,
    nameTextStyle: { rich: mathRich(21) } }));
}

// ================= series =================
let series = [];
// nucleon flux
series.push(band(fluxTotalBand, 0, 0, '#a6a6a6', '#7a7a7a'));
series.push(curve('p', fluxP, 0, 0, RED, 3, 'solid'));
series.push(curve('He', fluxHe, 0, 0, YEL, 3, [14, 7]));
series.push(curve('O*', fluxO, 0, 0, GRN, 3, [14, 6, 3, 6]));
series.push(curve('Fe*', fluxFe, 0, 0, BLU, 3, [3, 6]));
series.push(curve('Total', fluxTotal, 0, 0, '#000', 7, 'solid', 4));

// energy-scale offsets
series.push({
  type: 'custom', xAxisIndex: 1, yAxisIndex: 1, silent: true, z: 3,
  data: expNames.map((_, i) => [expShift[i], i, expLow[i], expHigh[i]]),
  renderItem: hBars('#000', 3.5)
});
series.push({
  name: 'expText', type: 'scatter', xAxisIndex: 1, yAxisIndex: 1, silent: true, z: 2,
  symbol: 'circle', symbolSize: 1, itemStyle: { color: 'rgba(0,0,0,0)' },
  data: expNames.map((_, i) => {
    const item = { value: [expTextAt[i], i] };
    if (expNames[i] === 'GRAPES-3') item.label = { offset: [0, -17], backgroundColor: '#fff', color: '#555', padding: [1, 2] };
    return item;
  }),
  label: { show: true, position: 'right', distance: 0, formatter: p => expText[p.dataIndex], fontFamily: FONT, fontSize: 25, color: '#000' },
  markLine: { silent: true, symbol: ['none', 'none'], label: { show: false },
    lineStyle: { color: '#7f7f7f', width: 3, type: [14, 8] }, data: [{ xAxis: 1.0 }] }
});
series.push({
  name: 'expShift', type: 'scatter', xAxisIndex: 1, yAxisIndex: 1, silent: true, z: 4,
  data: expNames.map((_, i) => [expShift[i], i]), symbolSize: 28, itemStyle: { color: '#000' }
});

// mean lnA
series.push(band(bandAround(lnACurve, lnAHalfWidth), 2, 2, '#b8b8b8', null));
const groupColors = [BLU, GRN, YEL, RED];
series.push({
  name: 'groups', type: 'line', xAxisIndex: 2, yAxisIndex: 2, data: [], z: 2, silent: true,
  markLine: {
    silent: true, symbol: ['none', 'none'],
    label: { show: true, position: 'end', distance: 14, color: '#000', fontFamily: FONT, fontSize: 25,
      rich: { i: { fontFamily: FONT, fontSize: 25, fontStyle: 'italic', color: '#000' } } },
    data: lnAGroups.map((g, i) => ({
      yAxis: lnAGroupValues[i],
      lineStyle: { color: groupColors[i], width: 3, type: [15, 7] },
      label: { formatter: g === 'p' ? '{i|p}' : g }
    }))
  }
});
series.push(curve('lnAcurve', lnACurve, 2, 2, '#000', 2.5, 'solid', 3));
series.push({
  type: 'custom', xAxisIndex: 2, yAxisIndex: 2, silent: true, z: 4,
  data: lhaasoLgE.map((x, i) => [x, lhaasoLnA[i], lhaasoLnA[i] - lhaasoErr[i], lhaasoLnA[i] + lhaasoErr[i]]),
  renderItem: vBars('#000', 2)
});
series.push({
  name: 'LHAASO', type: 'scatter', xAxisIndex: 2, yAxisIndex: 2, silent: true, z: 5,
  data: lhaasoLgE.map((x, i) => [x, lhaasoLnA[i]]), symbol: 'triangle', symbolSize: 12,
  itemStyle: { color: '#fff', borderColor: '#000', borderWidth: 1.5 }
});

// mass-group fractions
const massSets = [
  { color: RED, fill: 'rgba(255,0,0,0.3)', c: pFracCurve, h: pFracHalf, pts: [
    [pFracDense, 'triangle', 9, true, 0], [pFracFilled, 'diamond', 12, true, 0], [pFracLeftTri, 'triangle', 10, false, 90],
    [pFracSquares, 'rect', 9, false, 0], [pFracDiamonds, 'diamond', 12, false, 0], [pFracCircles, 'circle', 10, false, 0]] },
  { color: YEL, fill: 'rgba(191,191,0,0.3)', c: heFracCurve, h: heFracHalf, pts: [
    [heFracDense, 'triangle', 9, true, 180], [heFracFilled, 'triangle', 11, true, 180],
    [heFracSquares, 'rect', 9, false, 0], [heFracDiamonds, 'diamond', 12, false, 0], [heFracCircles, 'circle', 10, false, 0]] },
  { color: GRN, fill: 'rgba(0,128,0,0.3)', c: oFracCurve, h: oFracHalf, pts: [
    [oFracSquares, 'rect', 9, false, 0], [oFracDiamonds, 'diamond', 12, false, 0], [oFracCircles, 'circle', 10, false, 0]] },
  { color: BLU, fill: 'rgba(0,0,255,0.3)', c: feFracCurve, h: feFracHalf, pts: [
    [feFracSquares, 'rect', 9, false, 0], [feFracDiamonds, 'diamond', 12, false, 0], [feFracCircles, 'circle', 10, false, 0]] }
];
massSets.forEach((m, k) => {
  const xi = 4 + k, yi = 3 + k;
  series.push(band(bandAround(m.c, m.h), xi, yi, m.fill, null));
  series.push(curve('mfc' + k, m.c, xi, yi, m.color, 3.5, 'solid', 3));
  m.pts.forEach(p => { series = series.concat(points(p[0], xi, yi, m.color, p[1], p[2], p[3], p[4])); });
});

// ================= texts =================
const graphic = [];
const titles = [['Nucleon flux', 521, 26], ['Energy-scale offsets', 1645, 26], ['Mean lnA', 2647, 24], ['Mass-group fraction', 750, 965]];
titles.forEach(t => graphic.push({ type: 'text', x: t[1], y: t[2], style: {
  text: t[0], fontFamily: SLIDE, fontSize: 58, fill: '#000', align: 'center', verticalAlign: 'middle' } }));
[1453, 1634].forEach(y => graphic.push({ type: 'text', x: 110, y: y - 8, style: {
  text: fluxNote, fontFamily: FONT, fontSize: 13, fontStyle: 'italic', fill: '#000', lineHeight: 17, align: 'left', verticalAlign: 'top' } }));
bulletLines.forEach((l, i) => {
  const size = l[2] === 'main' ? 63 : 59;
  if (l[0]) graphic.push({ type: 'text', x: 1616, y: bulletY[i], style: { text: l[0], fontFamily: SLIDE, fontSize: 52, fill: '#000', align: 'center', verticalAlign: 'middle' } });
  graphic.push({ type: 'text', x: 1704, y: bulletY[i], style: { text: l[1], fontFamily: SLIDE, fontSize: size, fill: '#000', align: 'left', verticalAlign: 'middle' } });
});

chart.setOption({
  animation: false,
  backgroundColor: '#dae3f3',
  grid: grids,
  xAxis: xAxes,
  yAxis: yAxes,
  legend: [
    { right: 2218, top: 72, orient: 'horizontal', data: ['p', 'He', 'O*', 'Fe*', 'Total'], selectedMode: false,
      itemWidth: 22, itemHeight: 14, itemGap: 12, padding: [7, 8],
      itemStyle: { opacity: 0 }, lineStyle: { width: 'inherit' },
      backgroundColor: 'rgba(255,255,255,0.8)', borderColor: '#cccccc', borderWidth: 1.5, borderRadius: 5,
      formatter: n => n === 'p' ? '{i|p}' : n,
      textStyle: { fontFamily: FONT, fontSize: 16, color: '#000', rich: { i: { fontFamily: FONT, fontSize: 16, fontStyle: 'italic' } } } },
    { left: 2587, top: 71, orient: 'horizontal', data: ['LHAASO'], selectedMode: false,
      itemWidth: 30, itemHeight: 12, padding: [8, 10],
      backgroundColor: 'rgba(255,255,255,0.8)', borderColor: '#cccccc', borderWidth: 1.5, borderRadius: 5,
      textStyle: { fontFamily: FONT, fontSize: 17, color: '#000' } }
  ],
  series: series,
  graphic: graphic
});
</script>
</body>
</html>
